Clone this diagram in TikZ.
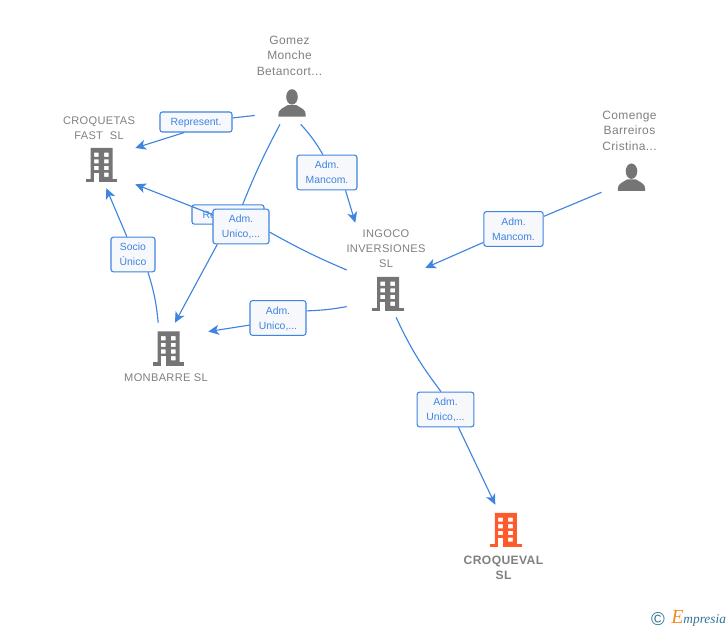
\documentclass[tikz,border=0pt]{standalone}
\usepackage{fontspec}
\setmainfont{Liberation Sans}
\newfontfamily\spacedfont[LetterSpace=3.0]{Liberation Sans}
\newfontfamily\logofont{Liberation Serif}
\usetikzlibrary{arrows.meta,backgrounds,positioning}

\definecolor{linkblue}{HTML}{3F84E0}
\definecolor{boxfill}{HTML}{F6F8FC}
\definecolor{labelgray}{HTML}{808080}
\definecolor{icongray}{HTML}{757575}
\definecolor{iconred}{HTML}{FF5A2B}
\definecolor{logoteal}{HTML}{2F7391}
\definecolor{logoorange}{HTML}{F58A1F}

\begin{document}
\begin{tikzpicture}[x=0.75pt,y=-0.75pt,font=\spacedfont,
link/.style={draw, color=linkblue, line width=0.85pt, >={Stealth[length=8pt,width=7.5pt,inset=2.2pt]}},
linkbox/.style={draw=linkblue, fill=boxfill, line width=0.8pt, rounded corners=1.8pt, align=center,
  text=linkblue, inner sep=0pt, text depth=0pt, font=\fontsize{7.8}{11.2}\selectfont},
entity/.style={draw=none, fill=none, inner sep=0pt},
person_label/.style={align=center, text=labelgray, inner sep=0pt, font=\spacedfont\fontsize{9}{11.6}\selectfont},
firm_label/.style={align=center, text=labelgray, inner sep=0pt, font=\spacedfont\fontsize{8.3}{11.3}\selectfont},
firm_bold/.style={firm_label, font=\spacedfont\bfseries\fontsize{9.1}{11.3}\selectfont},
building/.pic={
  \fill (-16,-3.5) rectangle (15.7,0);
  \fill[even odd rule] (-11,-34.5) rectangle (11,-3)
    foreach \wy in {-29.8,-23.2,-16.5} {(-7.6,\wy) rectangle ++(4.6,4.2) (2.4,\wy) rectangle ++(4.6,4.2)}
    (2.4,-9.8) rectangle ++(4.6,4.2);
  \fill[white] (-7.6,-9.8) rectangle (-3,-0.2);
},
person/.pic={
  \fill (0,-19.8) ellipse [x radius=5.8, y radius=7.7];
  \fill (-13.7,0) -- (-13.7,-2.5) .. controls (-13.5,-7.5) and (-9,-8.5) .. (-4.5,-11.5)
    -- (4.5,-11.5) .. controls (9,-8.5) and (13.5,-7.5) .. (13.7,-2.5) -- (13.7,0) -- cycle;
}]

   \useasboundingbox (0,0) rectangle (728,630);

   % invisible frames, the links stop at their borders
   \node[entity, minimum width=55.5pt, minimum height=66.8pt] at (292,79.5) (gomez) {};
   \node[entity, minimum width=54pt, minimum height=56.2pt] at (99,150.5) (croquetas) {};
   \node[entity, minimum width=58.5pt, minimum height=70.5pt] at (386,270) (ingoco) {};
   \node[entity, minimum width=63pt, minimum height=46.5pt] at (166,354) (monbarre) {};
   \node[entity, minimum width=60.8pt, minimum height=57.8pt] at (503.5,543.5) (croqueval) {};
   \node[entity, minimum width=45pt, minimum height=63pt] at (630,150) (comenge) {};

   % texts
   \node[person_label] at (289.5,55.5) (gomez_text) {Gomez\\Monche\\Betancort...};
   \node[person_label] at (629.5,130.5) (comenge_text) {Comenge\\Barreiros\\Cristina...};
   \node[firm_label] at (99,128) (croquetas_text) {CROQUETAS\\FAST\ \ SL};
   \node[firm_label] at (386,249) (ingoco_text) {INGOCO\\INVERSIONES\\SL};
   \node[firm_label] at (166,378) (monbarre_text) {MONBARRE SL};
   \node[firm_bold] at (503.5,568) (croqueval_text) {CROQUEVAL\\SL};

   % icons
   \pic[icongray] at (101.7,182.5) {building};
   \pic[icongray] at (388,311.5) {building};
   \pic[icongray] at (168.5,366) {building};
   \pic[iconred] at (505.8,547.3) {building};
   \pic[icongray] at (292,116.7) {person};
   \pic[icongray] at (631.5,191) {person};

   % link boxes
   \node[linkbox, minimum width=54pt, minimum height=15pt] at (196,122) (rep_a) {Represent.};
   \node[linkbox, minimum width=45pt, minimum height=26pt] at (327,172.5) (mancom_a) {Adm.\\Mancom.};
   \node[linkbox, minimum width=33pt, minimum height=26pt] at (133,254.5) (socio) {Socio\\Único};
   \node[linkbox, minimum width=54pt, minimum height=14.5pt] at (228,214.5) (rep_b) {Represent.};
   \draw [link,->] (rep_b.-45) to (croquetas.-43);
   \node[linkbox, minimum width=42pt, minimum height=26pt] at (241,226.5) (unico_a) {Adm.\\Unico,...};
   \node[linkbox, minimum width=42pt, minimum height=26pt] at (278,318) (unico_b) {Adm.\\Unico,...};
   \node[linkbox, minimum width=44.5pt, minimum height=26pt] at (513.5,229) (mancom_b) {Adm.\\Mancom.};
   \node[linkbox, minimum width=42.5pt, minimum height=26pt] at (445.5,409.5) (unico_c) {Adm.\\Unico,...};

   % links
   \begin{pgfonlayer}{background}
    \path [link] (gomez.224) edge (rep_a)
                 (gomez.281) edge [bend left=6] (mancom_a.103)
                 (gomez.255) edge [bend right=3] (unico_a.north)
                 (ingoco.west) edge [bend left=3] (unico_a.-11)
                 (ingoco.223) edge [bend left=4] (unico_b.14)
                 (monbarre.104) edge [bend right=6] (socio.-50)
                 (comenge.236) edge (mancom_b)
                 (ingoco.-78) edge [bend right=6] (unico_c.104);

    \draw [link,->] (rep_a.222) to (croquetas.4);
    \draw [link,->] (mancom_a.-44) to (ingoco.123);
    \draw [link,->] (unico_a.217) to (monbarre.74);
    \draw [link,->] (unico_b.194) to (monbarre.28);
    \draw [link,->] (socio.109) to (croquetas.-79);
    \draw [link,->] (mancom_b.204) to (ingoco.3);
    \draw [link,->] (unico_c.-54) to (croqueval.102);
   \end{pgfonlayer}

   % logo
   \node[inner sep=0pt, text=logoteal, font=\fontsize{14}{14}\selectfont] at (658,619) (logo_c) {©};
   \node[inner sep=0pt, anchor=base west, text=logoteal, font=\logofont\itshape\fontsize{10}{10}\selectfont] at (671,623)
     (logo_text) {{\color{logoorange}\fontsize{15}{15}\selectfont E}mpresia};

\end{tikzpicture}
\end{document}
